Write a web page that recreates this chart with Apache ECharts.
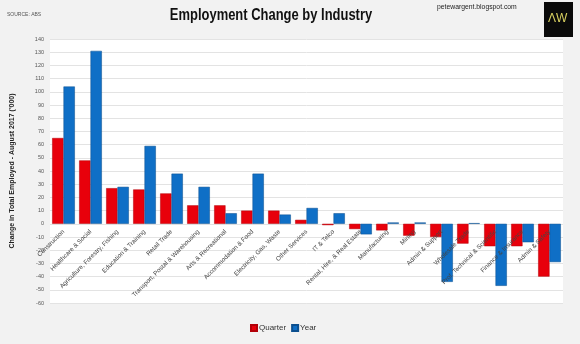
<!DOCTYPE html>
<html>
<head>
<meta charset="utf-8">
<script src="https://cdn.jsdelivr.net/npm/echarts@6/dist/echarts.min.js"></script>
<style>
  html, body { margin: 0; padding: 0; background: #f2f2f2; }
  #chart { width: 580px; height: 344px; }
</style>
</head>
<body>
<div id="chart"></div>
<script>
// Industries, ordered by quarterly change
const industries = [
  'Construction', 'Healthcare & Social', 'Agriculture, Forestry, Fishing',
  'Education & Training', 'Retail Trade', 'Transport, Postal & Warehousing',
  'Arts & Recreational', 'Accommodation & Food', 'Electricity, Gas, Waste',
  'Other Services', 'IT & Telco', 'Rental, Hire, & Real Estate',
  'Manufacturing', 'Mining', 'Admin & Support', 'Wholesale Trade',
  'Prof. Technical & Scientific', 'Finance & Insurance', 'Admin & Safety'
];
// Change in employment ('000)
const quarterChange = [65, 48, 27, 26, 23, 14, 14, 10, 10, 3, -1, -4, -5, -9, -10, -15, -17, -17, -40];
const yearChange = [104, 131, 28, 59, 38, 28, 8, 38, 7, 12, 8, -8, 1, 1, -44, 0.5, -47, -14, -29];

const yMin = -60, yMax = 140, yStep = 10;

const W = 580, H = 344;
const gridTop = 39, gridBottom = 41;
// lift the category axis (and its labels) up to the zero line
const plotH = H - gridTop - gridBottom;
const zeroLift = (0 - yMin) / (yMax - yMin) * plotH;

const chart = echarts.init(document.getElementById('chart'));
const sans = '"Liberation Sans", Arial, sans-serif';

chart.setOption({
  backgroundColor: '#f2f2f2',
  animation: false,
  legend: {
    data: ['Quarter', 'Year'],
    top: 319, left: 245,
    itemWidth: 6, itemHeight: 6, itemGap: 5,
    icon: 'rect',
    textStyle: { fontFamily: sans, fontSize: 8, color: '#333', padding: [0, 0, 0, -3] }
  },
  grid: {
    left: 50, right: 17, top: gridTop, bottom: gridBottom,
    containLabel: false, outerBoundsMode: 'none',
    show: true, backgroundColor: '#ffffff', borderWidth: 0
  },
  xAxis: {
    type: 'category',
    data: industries,
    offset: -zeroLift,
    z: 10,
    axisLine: { show: false, onZero: false },
    axisTick: { show: false },
    axisLabel: {
      rotate: 45, interval: 0, margin: 7, hideOverlap: false,
      fontFamily: sans, fontSize: 6.3, color: '#444'
    }
  },
  yAxis: {
    type: 'value',
    min: yMin, max: yMax, interval: yStep,
    name: "Change in Total Employed - August 2017 ('000)",
    nameLocation: 'middle', nameGap: 34, nameRotate: 90,
    nameTextStyle: { fontFamily: sans, fontSize: 7, fontWeight: 'bold', color: '#222' },
    axisLine: { show: false },
    axisTick: { show: false },
    axisLabel: { fontFamily: sans, fontSize: 5.5, color: '#555', margin: 6 },
    splitLine: { lineStyle: { color: '#e3e3e3', width: 1 } }
  },
  series: [
    {
      name: 'Quarter', type: 'bar', data: quarterChange,
      barGap: '0%', barCategoryGap: '16%',
      itemStyle: { color: '#e8000b', borderColor: '#b30008', borderWidth: 0.5 }
    },
    {
      name: 'Year', type: 'bar', data: yearChange,
      itemStyle: { color: '#0f6fc6', borderColor: '#0b4f8f', borderWidth: 0.5 }
    }
  ],
  graphic: [
    { type: 'text', x: 271, y: 16, scaleX: 0.81,
      style: { text: 'Employment Change by Industry', font: 'bold 16px ' + sans,
               fill: '#111', align: 'center', verticalAlign: 'middle' } },
    { type: 'text', left: 7, top: 12,
      style: { text: 'SOURCE: ABS', font: '5px ' + sans, fill: '#555' } },
    { type: 'text', x: 437, y: 3, scaleX: 0.85,
      style: { text: 'petewargent.blogspot.com', font: '8px ' + sans, fill: '#222' } },
    { type: 'rect', left: 544, top: 2, shape: { width: 29, height: 35 }, style: { fill: '#0a0a0a' } },
    { type: 'text', left: 548, top: 13,
      style: { text: 'ΛW', font: '12px ' + sans, fill: '#d8d060' } }
  ]
});
</script>
</body>
</html>
